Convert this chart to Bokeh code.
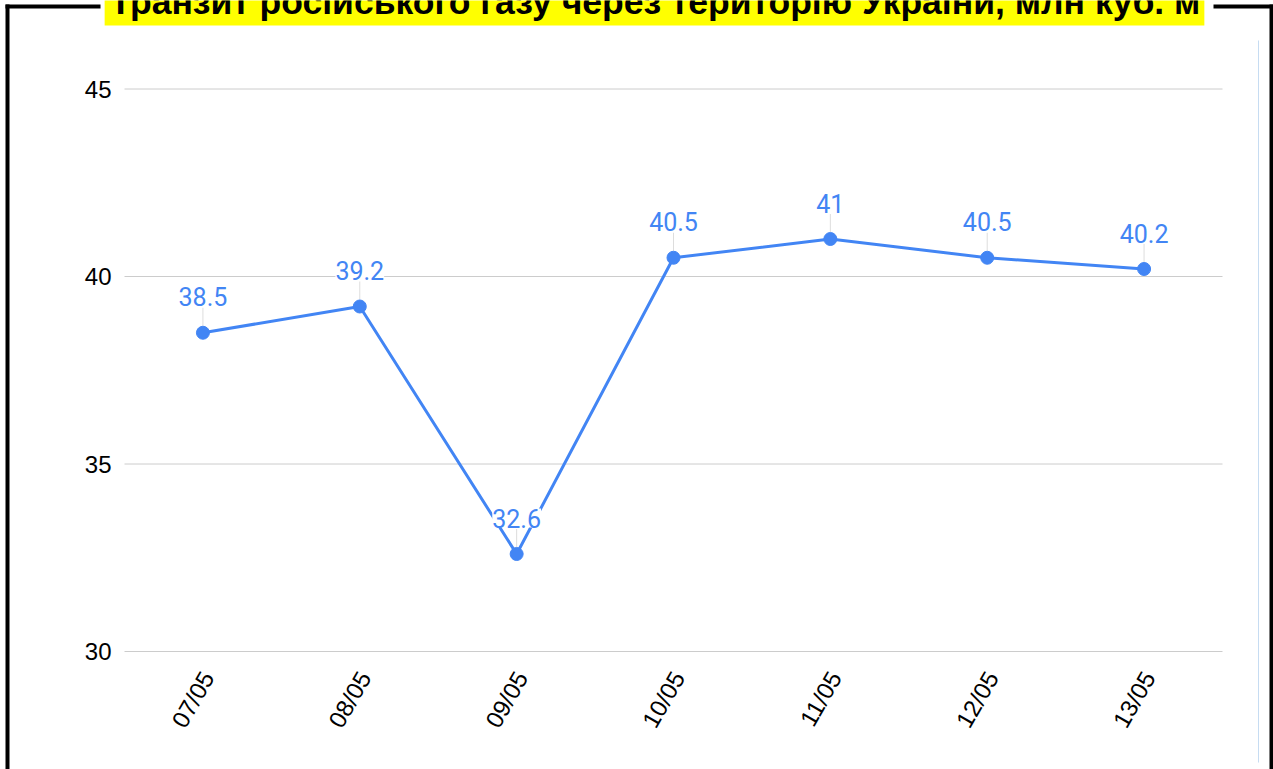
import math
from bokeh.plotting import figure
from bokeh.models import Range1d, LabelSet, Label, BoxAnnotation, ColumnDataSource
from bokeh.core.properties import value
from bokeh.embed import file_html
from bokeh.resources import INLINE

# ---- data ----
dates = ["07/05", "08/05", "09/05", "10/05", "11/05", "12/05", "13/05"]
transit = [38.5, 39.2, 32.6, 40.5, 41.0, 40.5, 40.2]
y_ticks = [30, 35, 40, 45]
title_text = "Транзит російського газу через територію України, млн куб. м"

BLUE = "#4285F4"
W, H = 1273, 769

# pixel layout of the plotting area (canvas px)
PL, PR = 124, 1222                 # left / right edge of category band
Y_REF, Y_REF_PX = 30, 651          # value 30 sits at y = 651 px
PPU = 37.5                         # px per value unit
N = len(dates)
PPC = (PR - PL) / N                # px per category

X0 = -PL / PPC
X1 = N + (W - PR) / PPC
Y1 = Y_REF + Y_REF_PX / PPU
Y0 = Y_REF - (H - Y_REF_PX) / PPU

def cx(px):   # canvas px -> x data
    return X0 + px / PPC

def cy(py):   # canvas px -> y data
    return Y1 - py / PPU

xs = [i + 0.5 for i in range(N)]
labels = [("%g" % v) for v in transit]
src = ColumnDataSource(dict(
    x=xs, y=transit, label=labels,
    y_lo=[v + 7 / PPU for v in transit],
    y_hi=[v + 25 / PPU for v in transit],
))

p = figure(x_range=Range1d(X0, X1), y_range=Range1d(Y0, Y1),
           width=W, height=H, output_backend="svg", toolbar_location=None,
           x_axis_location=None, y_axis_location=None,
           min_border=0)
p.outline_line_color = None
p.background_fill_color = "white"
p.border_fill_color = "white"
p.grid.visible = False

# horizontal grid lines at the y ticks
p.segment(x0=[0] * len(y_ticks), x1=[N] * len(y_ticks), y0=y_ticks, y1=y_ticks,
          line_color="#cccccc", line_width=1)

# y tick labels
p.text(x=[0] * len(y_ticks), y=y_ticks, text=[str(t) for t in y_ticks],
       x_offset=-13, text_align="right", text_baseline="middle",
       text_font=value("Liberation Sans"), text_font_size="24px", text_color="black")

# x tick labels (rotated)
p.text(x=[x + 5 / PPC for x in xs], y=[Y_REF - 22 / PPU] * N, text=dates,
       angle=math.pi / 3, text_align="right", text_baseline="middle",
       text_font=value("Liberation Sans"), text_font_size="24px", text_color="black")

# leader lines, series line, markers
p.segment(x0="x", y0="y_lo", x1="x", y1="y_hi", source=src,
          line_color="#dddddd", line_width=1)
p.line(x="x", y="y", source=src, line_color=BLUE, line_width=3)
p.scatter(x="x", y="y", source=src, size=13, fill_color=BLUE, line_color=BLUE)

p.add_layout(LabelSet(x="x", y="y", text="label", source=src, y_offset=36,
                      text_align="center", text_baseline="middle",
                      text_font=value("Roboto"), text_font_size="25px",
                      text_color=BLUE, background_fill_color="white"))

# decorative frame
def box(l, r, t, b, color):
    return BoxAnnotation(left=cx(l), right=cx(r), top=cy(t), bottom=cy(b),
                         fill_color=color, fill_alpha=1, line_color=None)

p.add_layout(box(5, 9, 4, H, "black"))
p.add_layout(box(5, 100, 4, 8, "black"))
p.add_layout(box(1213, W, 4, 8, "black"))
p.add_layout(box(1269, W, 4, H, "black"))
p.add_layout(box(1257.5, 1258.5, 40, 762, "#c6dcf2"))

# title
p.add_layout(Label(x=cx(654), y=cy(2.5),
                   text=title_text, text_align="center", text_baseline="alphabetic",
                   text_font="Liberation Sans", text_font_style="bold",
                   text_font_size="35.5px", text_color="black",
                   background_fill_color="#ffff00", padding=(5, 4, 1, 4)))

open("out.html", "w").write(file_html(p, INLINE))
